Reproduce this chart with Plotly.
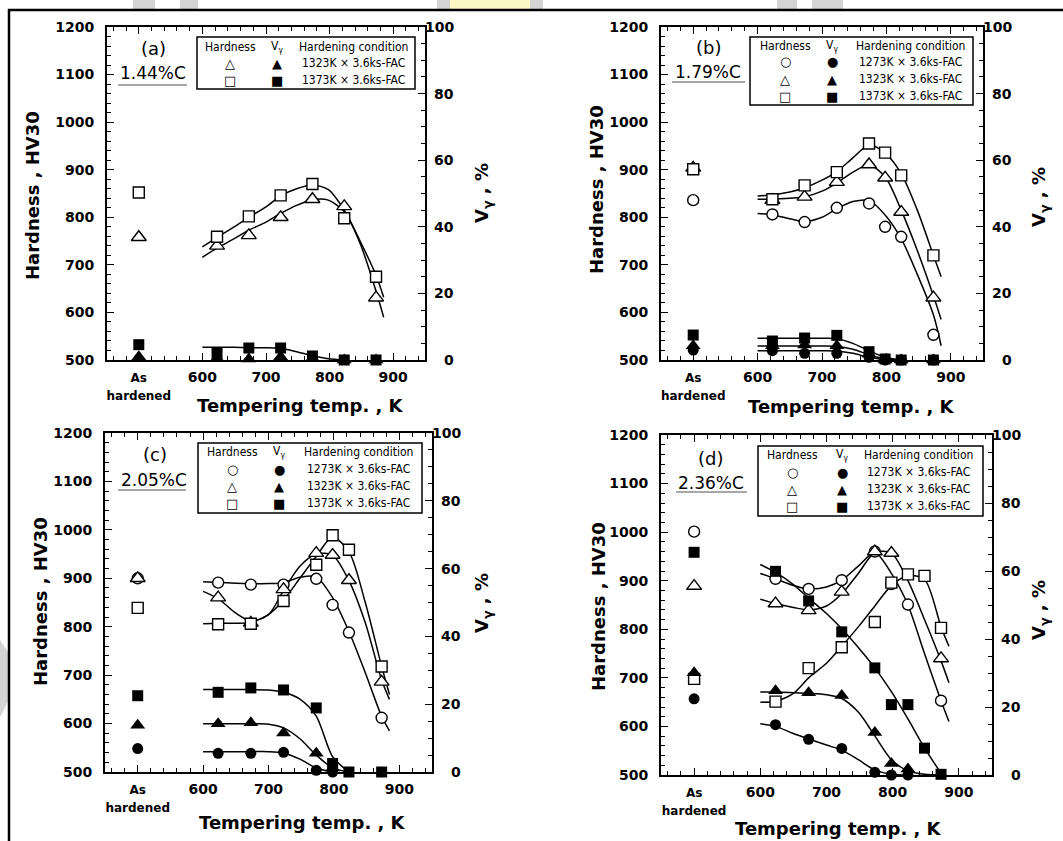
import plotly.graph_objects as go

W, H = 1063, 841

# ---------------- data ----------------
X_RANGE = [450, 950]
X_TICKS = [500, 600, 700, 800, 900]
X_TICK_TEXT = ["<span style='font-size:12px'>As</span><br><span style='font-size:12px'>hardened</span>",
               "600", "700", "800", "900"]
HV_RANGE = [500, 1200]
VG_RANGE = [0, 100]
VG_TICKS = [0, 20, 40, 60, 80, 100]
FIT_T = [600, 623, 650, 673, 700, 723, 748, 773, 798, 823, 848, 873, 885]
CONDITIONS = ["1273K × 3.6ks-FAC", "1323K × 3.6ks-FAC", "1373K × 3.6ks-FAC"]
PANEL_LABELS = ["(a)", "(b)", "(c)", "(d)"]
CARBON = ["1.44%C", "1.79%C", "2.05%C", "2.36%C"]

# panel (a) 1.44%C  (500 = as hardened)
a_temps = [500, 623, 673, 723, 773, 823, 873]
a_hv_1323 = [758, 740, 762, 800, 838, 823, 631]
a_hv_1373 = [852, 759, 802, 846, 870, 798, 675]
a_vg_1323 = [1.0, 0.5, 0.3, 1.0, 0.5, 0.0, 0.0]
a_vg_1373 = [4.6, 2.1, 3.6, 3.6, 1.2, 0.0, 0.0]
a_fit_hv_1323 = [716, 735, 755, 773, 790, 808, 825, 837, 836, 812, 745, 645, 590]
a_fit_hv_1373 = [738, 758, 780, 800, 822, 845, 860, 868, 858, 815, 750, 678, 632]
a_fit_vg_1373 = [3.8, 3.8, 3.8, 3.7, 3.7, 3.5, 2.5, 1.3, 0.4, 0.0, None, None, None]

# panel (b) 1.79%C
b_temps = [500, 623, 673, 723, 773, 798, 823, 873]
b_hv_1273 = [836, 806, 790, 820, 829, 780, 759, 553]
b_hv_1323 = [904, 836, 843, 874, 911, 883, 811, 631]
b_hv_1373 = [901, 838, 867, 895, 955, 936, 888, 720]
b_vg_1273 = [3.0, 2.8, 2.0, 2.0, 0.8, 0.0, 0.0, 0.0]
b_vg_1323 = [4.3, 4.3, 4.5, 4.3, 1.8, 0.0, 0.0, 0.0]
b_vg_1373 = [7.5, 5.7, 6.6, 7.4, 2.5, 0.3, 0.0, 0.0]
b_fit_hv_1273 = [808, 805, 797, 791, 800, 818, 833, 835, 805, 755, 680, 595, 530]
b_fit_hv_1323 = [838, 838, 840, 843, 855, 872, 895, 910, 885, 815, 730, 635, 585]
b_fit_hv_1373 = [845, 847, 853, 862, 878, 896, 925, 952, 935, 892, 815, 720, 675]
b_fit_vg_1273 = [2.8, 2.8, 2.8, 2.8, 2.8, 2.7, 2.0, 0.8, 0.0, None, None, None, None]
b_fit_vg_1323 = [4.2, 4.2, 4.2, 4.2, 4.2, 4.1, 3.2, 1.6, 0.3, 0.0, None, None, None]
b_fit_vg_1373 = [6.5, 6.5, 6.5, 6.5, 6.5, 6.4, 5.0, 2.8, 0.8, 0.0, None, None, None]

# panel (c) 2.05%C
c_temps = [500, 623, 673, 723, 773, 798, 823, 873]
c_hv_1273 = [900, 891, 887, 887, 899, 845, 788, 612]
c_hv_1323 = [900, 860, 808, 877, 952, 948, 896, 686]
c_hv_1373 = [839, 805, 806, 853, 928, 989, 959, 718]
c_vg_1273 = [6.9, 5.5, 5.5, 5.8, 0.5, 0.0, None, None]
c_vg_1323 = [13.8, 14.2, 14.5, 11.5, 5.5, 1.2, None, None]
c_vg_1373 = [22.5, 23.5, 24.8, 24.2, 18.9, 2.5, 0.0, 0.0]
c_fit_hv_1273 = [893, 892, 890, 889, 889, 891, 902, 903, 860, 790, 705, 615, 585]
c_fit_hv_1323 = [873, 858, 828, 812, 825, 875, 925, 950, 948, 895, 808, 690, 650]
c_fit_hv_1373 = [806, 807, 807, 809, 825, 855, 900, 945, 985, 955, 850, 718, 660]
c_fit_vg_1273 = [6.0, 6.0, 6.0, 6.0, 6.0, 5.6, 3.8, 1.2, 0.0, None, None, None, None]
c_fit_vg_1323 = [14.2, 14.2, 14.2, 14.2, 14.1, 13.0, 9.8, 5.0, 1.2, 0.0, None, None, None]
c_fit_vg_1373 = [24.3, 24.3, 24.3, 24.3, 24.2, 23.5, 21.5, 16.5, 4.5, 0.0, None, None, None]

# panel (d) 2.36%C
d_temps = [500, 623, 673, 723, 773, 798, 823, 848, 873]
d_hv_1273 = [1001, 904, 883, 901, 960, 893, 851, None, 653]
d_hv_1323 = [889, 853, 839, 877, 960, 957, None, None, 740]
d_hv_1373 = [698, 651, 720, 763, 815, 896, 913, 910, 803]
d_vg_1273 = [22.4, 14.8, 10.5, 7.8, 0.8, 0.0, 0.0, None, None]
d_vg_1323 = [30.1, 24.8, 24.2, 23.4, 12.5, 3.4, 1.8, None, None]
d_vg_1373 = [65.5, 59.9, 51.2, 42.1, 31.5, 20.7, 20.7, 7.9, 0.2]
d_fit_hv_1273 = [915, 904, 890, 883, 887, 901, 930, 958, 915, 850, 750, 653, 610]
d_fit_hv_1323 = [862, 853, 845, 840, 848, 873, 915, 958, 957, 900, 820, 735, 690]
d_fit_hv_1373 = [650, 652, 668, 700, 730, 765, 805, 848, 890, 910, 903, 805, 765]
d_fit_vg_1273 = [15.1, 14.3, 12.2, 10.6, 8.8, 7.3, 4.5, 1.5, 0.2, 0.0, None, None, None]
d_fit_vg_1323 = [24.4, 24.4, 24.2, 24.0, 23.6, 22.5, 18.5, 11.5, 4.5, 1.2, 0.2, 0.0, None]
d_fit_vg_1373 = [61.9, 59.6, 56.0, 52.0, 47.5, 43.0, 37.5, 31.5, 24.5, 16.5, 8.0, 0.5, None]

# ---------------- layout helpers ----------------
def px(x):
    return x / W


def py(y):
    return 1 - y / H


BOLD = "DejaVu Sans"
NARROW = "DejaVu Sans Condensed, Liberation Sans Narrow, DejaVu Sans"
SYM = {0: "circle", 1: "triangle-up", 2: "square"}
OPEN_CH = {0: "○", 1: "△", 2: "□"}
FILL_CH = {0: "●", 1: "▲", 2: "■"}

panels = [
    dict(temps=a_temps,
         hv={1: a_hv_1323, 2: a_hv_1373}, vg={1: a_vg_1323, 2: a_vg_1373},
         fit_hv={1: a_fit_hv_1323, 2: a_fit_hv_1373}, fit_vg={2: a_fit_vg_1373},
         box=(107, 27, 425, 360), ltitle=(33, 196), rtitle=(483, 193), btitle=(300, 405),
         legend=dict(box=(197, 37, 415, 89), header=47, rows=[63, 80], cols=(230, 277, 353)),
         lab=(153, 49), carb=(153, 73), uline=(118, 187, 85)),
    dict(temps=b_temps,
         hv={0: b_hv_1273, 1: b_hv_1323, 2: b_hv_1373}, vg={0: b_vg_1273, 1: b_vg_1323, 2: b_vg_1373},
         fit_hv={0: b_fit_hv_1273, 1: b_fit_hv_1323, 2: b_fit_hv_1373},
         fit_vg={0: b_fit_vg_1273, 1: b_fit_vg_1323, 2: b_fit_vg_1373},
         box=(661, 27, 983, 360), ltitle=(597, 190), rtitle=(1040, 197), btitle=(851, 406),
         legend=dict(box=(750, 37, 973, 105), header=46, rows=[62, 79, 96], cols=(785, 832, 910)),
         lab=(708, 47), carb=(708, 72), uline=(672, 745, 82)),
    dict(temps=c_temps,
         hv={0: c_hv_1273, 1: c_hv_1323, 2: c_hv_1373}, vg={0: c_vg_1273, 1: c_vg_1323, 2: c_vg_1373},
         fit_hv={0: c_fit_hv_1273, 1: c_fit_hv_1323, 2: c_fit_hv_1373},
         fit_vg={0: c_fit_vg_1273, 1: c_fit_vg_1323, 2: c_fit_vg_1373},
         box=(105, 433, 432, 772), ltitle=(40, 602), rtitle=(483, 603), btitle=(302, 822),
         legend=dict(box=(198, 443, 422, 513), header=452, rows=[469, 486, 503], cols=(232, 279, 358)),
         lab=(155, 455), carb=(154, 480), uline=(118, 186, 490)),
    dict(temps=d_temps,
         hv={0: d_hv_1273, 1: d_hv_1323, 2: d_hv_1373}, vg={0: d_vg_1273, 1: d_vg_1323, 2: d_vg_1373},
         fit_hv={0: d_fit_hv_1273, 1: d_fit_hv_1323, 2: d_fit_hv_1373},
         fit_vg={0: d_fit_vg_1273, 1: d_fit_vg_1323, 2: d_fit_vg_1373},
         box=(661, 435, 992, 775), ltitle=(598, 607), rtitle=(1040, 610), btitle=(838, 828),
         legend=dict(box=(758, 446, 983, 516), header=455, rows=[472, 489, 506], cols=(792, 842, 918)),
         lab=(710, 458), carb=(711, 483), uline=(676, 747, 492)),
]

fig = go.Figure()
layout = {}
annotations = []
shapes = []
tickfont = dict(family=BOLD, size=14, color="black", weight="bold")
titlefont = dict(family=BOLD, size=18, color="black", weight="bold")


def note(x, y, text, font, angle=0):
    return dict(x=px(x), y=py(y), xref="paper", yref="paper", text=text, showarrow=False,
                font=font, textangle=angle, xanchor="center", yanchor="middle")


for i, p in enumerate(panels):
    n = i + 1
    xname = "x" if n == 1 else f"x{n}"
    ylname = "y" if n == 1 else f"y{2 * n - 1}"
    yrname = f"y{2 * n}"
    x0, y0, x1, y1 = p["box"]

    # fitted curves
    for k, vals in p["fit_hv"].items():
        fig.add_trace(go.Scatter(x=FIT_T, y=vals, xaxis=xname, yaxis=ylname, mode="lines",
                                 line=dict(color="black", width=1.5, shape="spline", smoothing=0.8),
                                 hoverinfo="skip", showlegend=False))
    for k, vals in p["fit_vg"].items():
        fig.add_trace(go.Scatter(x=FIT_T, y=vals, xaxis=xname, yaxis=yrname, mode="lines",
                                 line=dict(color="black", width=1.5, shape="spline", smoothing=0.8),
                                 hoverinfo="skip", showlegend=False))
    # hardness (open markers)
    for k, vals in p["hv"].items():
        fig.add_trace(go.Scatter(x=p["temps"], y=vals, xaxis=xname, yaxis=ylname, mode="markers",
                                 marker=dict(symbol=SYM[k], size=13 if k == 1 else 11, color="white",
                                             line=dict(color="black", width=1.4)),
                                 hoverinfo="skip", showlegend=False))
    # retained austenite (filled markers)
    for k, vals in p["vg"].items():
        fig.add_trace(go.Scatter(x=p["temps"], y=vals, xaxis=xname, yaxis=yrname, mode="markers",
                                 marker=dict(symbol=SYM[k], size=13 if k == 1 else 11, color="black",
                                             line=dict(color="black", width=0)),
                                 hoverinfo="skip", showlegend=False, cliponaxis=False))

    xkey = "xaxis" if n == 1 else f"xaxis{n}"
    ylkey = "yaxis" if n == 1 else f"yaxis{2 * n - 1}"
    yrkey = f"yaxis{2 * n}"
    layout[xkey] = dict(domain=[px(x0), px(x1)], range=X_RANGE, anchor=ylname,
                        tickmode="array", tickvals=X_TICKS, ticktext=X_TICK_TEXT,
                        ticks="inside", ticklen=7, tickwidth=1.2, tickcolor="black",
                        minor=dict(tickmode="linear", tick0=0, dtick=20, ticks="inside",
                                   ticklen=4, tickwidth=1, tickcolor="black"),
                        showline=True, linewidth=2, linecolor="black", mirror="ticks",
                        showgrid=False, zeroline=False, tickfont=tickfont,
                        ticklabelstandoff=3, automargin=False, fixedrange=True)
    layout[ylkey] = dict(domain=[py(y1), py(y0)], range=HV_RANGE, anchor=xname,
                         tickmode="linear", tick0=500, dtick=100,
                         ticks="inside", ticklen=7, tickwidth=1.2, tickcolor="black",
                         minor=dict(tickmode="linear", tick0=500, dtick=20, ticks="inside",
                                    ticklen=4, tickwidth=1, tickcolor="black"),
                         showline=True, linewidth=2, linecolor="black",
                         showgrid=False, zeroline=False, tickfont=tickfont,
                         ticklabelstandoff=8, automargin=False, fixedrange=True)
    layout[yrkey] = dict(domain=[py(y1), py(y0)], range=VG_RANGE, anchor=xname,
                         overlaying=ylname, side="right",
                         tickmode="linear", tick0=0, dtick=20,
                         ticks="inside", ticklen=7, tickwidth=1.2, tickcolor="black",
                         minor=dict(tickmode="linear", tick0=0, dtick=5, ticks="inside",
                                    ticklen=4, tickwidth=1, tickcolor="black"),
                         showline=True, linewidth=2, linecolor="black",
                         showgrid=False, zeroline=False, showticklabels=False,
                         automargin=False, fixedrange=True)

    # right tick labels (right-aligned as in the original)
    for v in VG_TICKS:
        annotations.append(dict(x=px(x1 + 31), xref="paper", xanchor="right",
                                y=v, yref=yrname, yanchor="middle",
                                text=str(v), showarrow=False, font=tickfont))

    # axis titles
    annotations.append(note(p["ltitle"][0], p["ltitle"][1], "Hardness , HV30", titlefont, -90))
    annotations.append(note(p["rtitle"][0], p["rtitle"][1], "V<sub>γ</sub> , %", titlefont, -90))
    annotations.append(note(p["btitle"][0], p["btitle"][1], "Tempering temp. , K", titlefont))

    # panel label and carbon content
    annotations.append(note(p["lab"][0], p["lab"][1], PANEL_LABELS[i],
                            dict(family="DejaVu Sans", size=18, color="black")))
    annotations.append(note(p["carb"][0], p["carb"][1], CARBON[i],
                            dict(family="DejaVu Sans", size=17, color="black")))
    ux0, ux1, uy = p["uline"]
    shapes.append(dict(type="line", xref="paper", yref="paper", x0=px(ux0), x1=px(ux1),
                       y0=py(uy), y1=py(uy), line=dict(color="#8a8a8a", width=1.5)))

    # inset legend
    lg = p["legend"]
    bx0, by0, bx1, by1 = lg["box"]
    shapes.append(dict(type="rect", xref="paper", yref="paper", x0=px(bx0), x1=px(bx1),
                       y0=py(by1), y1=py(by0), line=dict(color="black", width=1.5),
                       fillcolor="rgba(0,0,0,0)", layer="above"))
    cx_h, cx_v, cx_c = lg["cols"]
    lfont = dict(family=NARROW, size=12, color="black")
    sfont = dict(family="DejaVu Sans", size=13, color="black")
    for txt, cx in (("Hardness", cx_h), ("V<sub>γ</sub>", cx_v), ("Hardening condition", cx_c)):
        annotations.append(note(cx, lg["header"], txt, lfont))
    keys = sorted(p["hv"].keys())
    for ry, k in zip(lg["rows"], keys):
        annotations.append(note(cx_h, ry, OPEN_CH[k], sfont))
        annotations.append(note(cx_v, ry, FILL_CH[k], sfont))
        annotations.append(note(cx_c, ry, CONDITIONS[k], lfont))

# faint watermark remnants and the outer frame
for gx0, gx1, col in ((133, 155, "#d4d4d4"), (180, 198, "#d4d4d4"), (437, 450, "#d4d4d4"),
                      (450, 530, "#fdf9c4"), (530, 543, "#d4d4d4"), (777, 797, "#d4d4d4"),
                      (812, 843, "#d4d4d4")):
    shapes.append(dict(type="rect", xref="paper", yref="paper", x0=px(gx0), x1=px(gx1),
                       y0=py(9), y1=1, line=dict(width=0), fillcolor=col, layer="below"))
shapes.append(dict(type="path", xref="paper", yref="paper",
                   path=f"M 0 {py(640)} L {px(8)} {py(652)} L {px(8)} {py(702)} L 0 {py(717)} Z",
                   line=dict(width=0), fillcolor="#d4d4d4", layer="below"))
shapes.append(dict(type="path", xref="paper", yref="paper",
                   path=f"M {px(9)} 0 L {px(9)} {py(10)} L 1 {py(10)}",
                   line=dict(color="black", width=2.5), layer="above"))

fig.update_layout(**layout)
fig.update_layout(width=W, height=H, margin=dict(l=0, r=0, t=0, b=0, pad=0),
                  paper_bgcolor="white", plot_bgcolor="rgba(0,0,0,0)",
                  annotations=annotations, shapes=shapes, showlegend=False)

fig.write_html("out.html", config={"displayModeBar": False},
               post_script="document.body.style.margin='0';document.body.style.overflow='hidden';")
